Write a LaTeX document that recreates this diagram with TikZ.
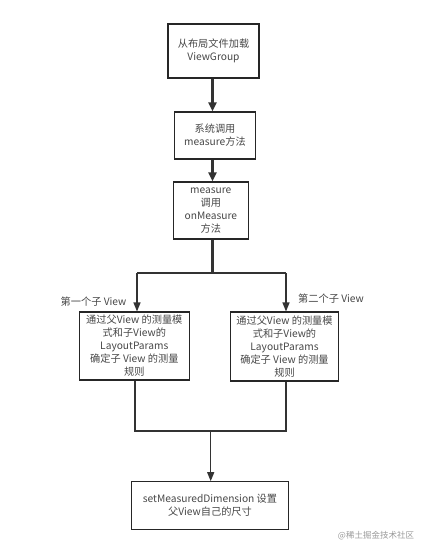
\documentclass[tikz,border=0pt]{standalone}
\usepackage{fontspec}
\setmainfont{Noto Sans CJK SC}
\usetikzlibrary{arrows.meta}
\begin{document}
\begin{tikzpicture}[x=1pt,y=-1pt,
  font=\fontsize{10.2}{13}\selectfont,
  box/.style={draw=black!85, line width=1.1pt, align=center, text=black!72, inner sep=0pt},
  heavy/.style={draw=black!80, line width=2.2pt},
  heavyarrow/.style={heavy, -{Triangle[length=9pt,width=8pt]}},
  light/.style={draw=black!80, line width=1.3pt},
  lightarrow/.style={light, -{Triangle[length=9pt,width=7pt]}},
  lbl/.style={text=black!72, inner sep=0pt}]
\useasboundingbox (0,0) rectangle (428,550);
\node[box, minimum width=91pt, minimum height=54pt] (b1) at (213.5,51) {从布局文件加载\\ViewGroup};
\node[box, minimum width=81pt, minimum height=47pt] (b2) at (215,135.5) {系统调用\\measure方法};
\node[box, minimum width=75pt, minimum height=57pt] (b3) at (210.8,210.5) {measure\\调用\\onMeasure\\方法};
\node[box, minimum width=110pt, minimum height=68pt] (l) at (134.3,346) {通过父View 的测量模\\式和子View的\\LayoutParams\\确定子 View 的测量\\规则};
\node[box, minimum width=108pt, minimum height=69pt] (r) at (284.5,346.5) {通过父View 的测量模\\式和子View的\\LayoutParams\\确定子 View 的测量\\规则};
\node[box, minimum width=157pt, minimum height=47.6pt] (b4) at (210,505.5) {setMeasuredDimension 设置\\父View自己的尺寸};
\node[lbl] (t1) at (93.5,302) {第一个子 View};
\node[lbl] (t2) at (331,299) {第二个子 View};
\node[text=black!40, inner sep=0pt, font=\fontsize{8.5}{10}\selectfont] (wm) at (376,536) {@稀土掘金技术社区};
\coordinate (cx) at (212.5,0);
\coordinate (lx) at (137,0);
\coordinate (rx) at (286,0);
\coordinate (lbx) at (135,0);
\coordinate (bx) at (210.7,0);
\coordinate (top) at (212.5,273);
\coordinate (tl) at (137,273);
\coordinate (tr) at (286,273);
\coordinate (bl) at (135,431);
\coordinate (br) at (286,431);
\coordinate (bm) at (210.7,431);
\draw[heavyarrow] (b1.south -| cx) -- (b2.north -| cx);
\draw[heavyarrow] (b2.south -| cx) -- (b3.north -| cx);
\draw[heavy] (b3.south -| cx) -- (top);
\draw[light] (tl) -- (tr);
\draw[lightarrow] (tl) -- (l.north -| lx);
\draw[lightarrow] (tr) -- (r.north -| rx);
\draw[light] (l.south -| lbx) -- (bl) -- (br) -- (r.south -| rx);
\draw[lightarrow] (bm) -- (b4.north -| bx);
\end{tikzpicture}
\end{document}
